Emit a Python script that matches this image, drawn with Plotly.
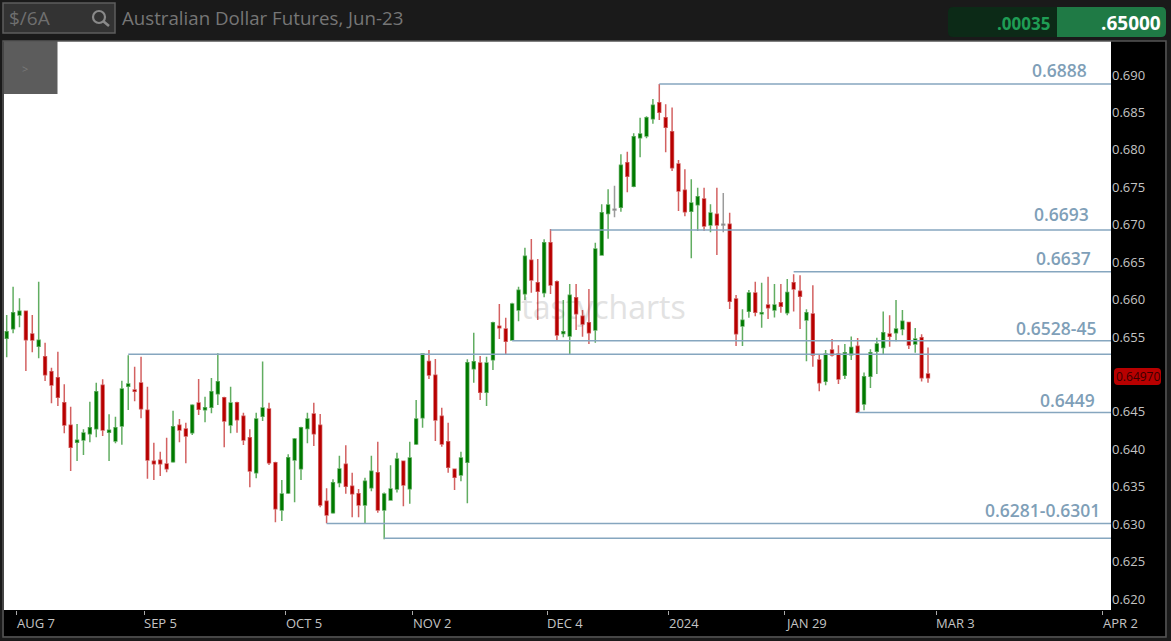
import plotly.graph_objects as go

# ---- candle data (prices) ----
directions = ("GGGRRGRRRR" "RGGGGRGGGG" "RRRRRRGRRG" "RGGGRGRRRG" "GRRGGGGGRR"
              "RGGRRRGGRG" "GGRGGGRRRR" "RGGGRGGRRG" "GGRRGRRGGR" "RRGGGNGRGG"
              "GGRRRRRGGR" "GRNRRGGRGR" "GRGRRGRRGR" "RGGRGGGGRG" "GRGRR")
high = [.65794,.66172,.66016,.65852,.65794,.66239,.65424,.65090,.65304,.64868,
        .64569,.64338,.64266,.64636,.64890,.64934,.64467,.64436,.64917,.65255,
        .65104,.65237,.64836,.64088,.63968,.64155,.64516,.64404,.64356,.64600,
        .64939,.64703,.64952,.65282,.64703,.64836,.64636,.64489,.64267,.64489,
        .65171,.64623,.63835,.63590,.63933,.64151,.64302,.64489,.64623,.64471,
        .63478,.63599,.63915,.64053,.63688,.63469,.63621,.63915,.64102,.63421,
        .63786,.63955,.63848,.64102,.64658,.65282,.65326,.65206,.64556,.64356,
        .63732,.63968,.65202,.65558,.65246,.65237,.65705,.65941,.65758,.65959,
        .66172,.66693,.66809,.66542,.66805,.66943,.66253,.65994,.66208,.66208,
        .65861,.66141,.66760,.67272,.67473,.67522,.67940,.67976,.68221,.68430,
        .68448,.68679,.68880,.68608,.68564,.67864,.67740,.67606,.67495,.67495,
        .67272,.67495,.67424,.67161,.66061,.65870,.66128,.66239,.66226,.66306,
        .66208,.66208,.66275,.66338,.66324,.65870,.66191,.65273,.65327,.65474,
        .65389,.65407,.65505,.65487,.65024,.65336,.65491,.65839,.65790,.65995,
        .65861,.65705,.65621,.65536,.65358]
body_top = [.65571,.65825,.65843,.65843,.65540,.65455,.65237,.65037,.64957,.64623,
            .64320,.64120,.64217,.64289,.64770,.64854,.64253,.64289,.64805,.64872,
            .64792,.64885,.64520,.63839,.63852,.63803,.64302,.64320,.64271,.64587,
            .64618,.64556,.64770,.64903,.64690,.64618,.64623,.64440,.64155,.64405,
            .64552,.64538,.63821,.63403,.63888,.64137,.64289,.64405,.64471,.64320,
            .63305,.63554,.63737,.63799,.63505,.63407,.63572,.63705,.63688,.63403,
            .63469,.63870,.63839,.63884,.64405,.65273,.65171,.64988,.64440,.64102,
            .63732,.63884,.65157,.65170,.65153,.65153,.65691,.65642,.65607,.65941,
            .66123,.66578,.66524,.66226,.66760,.66760,.66239,.65571,.66057,.66025,
            .65776,.65691,.66676,.67161,.67263,.67205,.67793,.67829,.68176,.68212,
            .68430,.68595,.68630,.68430,.68243,.67811,.67459,.67290,.67375,.67343,
            .67156,.67139,.67005,.67005,.66008,.65723,.66088,.66088,.65825,.65928,
            .65928,.65959,.66093,.66226,.66110,.65825,.65808,.65193,.65273,.65327,
            .65273,.65291,.65358,.65376,.64970,.65291,.65407,.65558,.65540,.65607,
            .65710,.65692,.65474,.65491,.65006]
body_bottom = [.65482,.65611,.65794,.65464,.65460,.65375,.64997,.64859,.64694,.64324,
               .64026,.64093,.64124,.64209,.64275,.64258,.64226,.64111,.64311,.64841,
               .64774,.64543,.63857,.63808,.63808,.63741,.63835,.64258,.64177,.64222,
               .64534,.64529,.64560,.64743,.64378,.64324,.64396,.64124,.63710,.63688,
               .64440,.63821,.63207,.63189,.63416,.63857,.63741,.64276,.64209,.63256,
               .63122,.63153,.63554,.63505,.63407,.63256,.63256,.63487,.63189,.63189,
               .63323,.63469,.63523,.63474,.64071,.64422,.64992,.64391,.64071,.63759,
               .63625,.63657,.63826,.65077,.64761,.64761,.65197,.65625,.65442,.65460,
               .65861,.66079,.66261,.66110,.66092,.66195,.65527,.65545,.65513,.65812,
               .65674,.65558,.65594,.66595,.67148,.67197,.67232,.67646,.67513,.68163,
               .68185,.68417,.68501,.68301,.67762,.67450,.67174,.67179,.67268,.66983,
               .66996,.66996,.66996,.65976,.65544,.65647,.65843,.65829,.65812,.65892,
               .65861,.65910,.65825,.66142,.66044,.65727,.65260,.64890,.64908,.65260,
               .64939,.64988,.65264,.64494,.64605,.64975,.65309,.65358,.65509,.65558,
               .65607,.65393,.65407,.64957,.64957]
low = [.65228,.65549,.65629,.65046,.65295,.65215,.64912,.64614,.64578,.64213,
       .63710,.63843,.63924,.64093,.64160,.64177,.63843,.64079,.64062,.64525,
       .64640,.64413,.63607,.63590,.63643,.63692,.63821,.64093,.63812,.64191,
       .64458,.64360,.64480,.64592,.64026,.64213,.64222,.64057,.63492,.63612,
       .64378,.63790,.63024,.63042,.63403,.63291,.63590,.64080,.64044,.63225,
       .63011,.63140,.63492,.63407,.63091,.63091,.63011,.63438,.63153,.62797,
       .63323,.63421,.63238,.63274,.64057,.64289,.64939,.64111,.64035,.63688,
       .63456,.63572,.63278,.64890,.64658,.64578,.65059,.65473,.65264,.65451,
       .65709,.65994,.66092,.65727,.66030,.66074,.65451,.65496,.65264,.65594,
       .65504,.65406,.65424,.66595,.66814,.67099,.67174,.67433,.67499,.67900,
       .68154,.68350,.68399,.67967,.67718,.67183,.67112,.66551,.66916,.66916,
       .66898,.66595,.66898,.65874,.65380,.65380,.65758,.65776,.65625,.65741,
       .65759,.65825,.65790,.65839,.65607,.65175,.65104,.64774,.64855,.65238,
       .64872,.64939,.65193,.64490,.64521,.64819,.65006,.65260,.65371,.65442,
       .65523,.65340,.65291,.64904,.64890]

# ---- levels and labels ----
level_prices = [.6888, .6693, .6637, .6545, .6527, .6449, .6301, .6281]
level_starts = [102, 85, 123, 79, 19, 133, 50, 59]
label_texts = ["0.6888", "0.6693", "0.6637", "0.6528-45", "0.6449", "0.6281-0.6301"]
label_right = [1089, 1091, 1093, 1098, 1097, 1102]
label_top = [70, 214.5, 257.5, 327.5, 400, 509.5]
# the 0.650 tick is covered by the last-price tag in the reference
y_ticks = [.620, .625, .630, .635, .640, .645, .655, .660, .665,
           .670, .675, .680, .685, .690]
x_tick_vals = [1.56, 21.5, 43.6, 63.5, 84.45, 103.5, 121.6, 145.25, 171.3]
x_tick_text = ["AUG 7", "SEP 5", "OCT 5", "NOV 2", "DEC 4", "2024", "JAN 29", "MAR 3", "APR 2"]
last_price = 0.64970

# ---- page geometry ----
W, H = 1171, 641
L, R, T, B = 4, 1111, 41, 610
X_RANGE = [-0.42, 172.6]
Y_RANGE = [0.61853, 0.69454]
FONT = "Open Sans"
GREEN, RED, GRAY = "#007a00", "#b80000", "#8f8f8f"
LEVEL = "#86a6bf"

def xp(px): return (px - L) / (R - L)
def yp(py): return 1 - (py - T) / (B - T)

idx = list(range(len(high)))
def pick(code):
    keep = [i for i in idx if directions[i] == code]
    op = [body_bottom[i] if code == "G" else body_top[i] for i in keep]
    cl = [body_top[i] if code == "G" else body_bottom[i] for i in keep]
    return keep, op, [high[i] for i in keep], [low[i] for i in keep], cl

fig = go.Figure()
for code, col, rgba in (("G", GREEN, "rgba(0,122,0,0.62)"),
                        ("R", RED, "rgba(184,0,0,0.62)"),
                        ("N", GRAY, "rgba(130,130,130,0.8)")):
    xs, o, h, l, c = pick(code)
    style = dict(line=dict(color=rgba, width=1.5), fillcolor=col)
    fig.add_trace(go.Candlestick(x=xs, open=o, high=h, low=l, close=c,
                                 increasing=style, decreasing=style,
                                 whiskerwidth=0, showlegend=False))

for price, start in zip(level_prices, level_starts):
    fig.add_trace(go.Scatter(x=[start, X_RANGE[1]], y=[price, price], mode="lines",
                             line=dict(color=LEVEL, width=1.5), showlegend=False,
                             hoverinfo="skip"))

def rect(x0, y0, x1, y1, fill, line=None, layer="below", lw=1):
    return dict(type="rect", xref="paper", yref="paper", x0=xp(x0), x1=xp(x1),
                y0=yp(y1), y1=yp(y0), fillcolor=fill, layer=layer,
                line=dict(color=line or fill, width=lw if line else 0))

def rounded(x0, y0, x1, y1, r, fill, left=True, right=True):
    # rounded panel, in paper fractions
    rx, ry = r / (R - L), r / (B - T)
    a, b, c, d = xp(x0), xp(x1), yp(y1), yp(y0)
    p = f"M{a + (rx if left else 0)},{d} L{b - (rx if right else 0)},{d} "
    p += f"Q{b},{d} {b},{d - ry} L{b},{c + ry} Q{b},{c} {b - rx},{c} " if right else f"L{b},{c} "
    p += f"L{a + rx},{c} Q{a},{c} {a},{c + ry} L{a},{d - ry} Q{a},{d} {a + rx},{d} Z" if left else f"L{a},{c} Z"
    return dict(type="path", xref="paper", yref="paper", path=p, fillcolor=fill,
                line=dict(width=0), layer="above")

shapes = [
    rect(R, T, 1165, 636, "#000000"),
    rect(L, B, R, 636, "#000000"),
    rect(L + 0, T, L + 53.5, 94, "#5c5c5c", layer="above"),
    rect(3, 41, 1166, 637, "rgba(0,0,0,0)", "#555555", layer="above", lw=1.5),
    rect(3, 3, 115, 33, "#333333", "#5e5e5e", layer="above", lw=1.5),
    dict(type="circle", xref="paper", yref="paper", x0=xp(93), x1=xp(105), y0=yp(23), y1=yp(11),
         line=dict(color="#8a8a8a", width=2.2), layer="above"),
    dict(type="line", xref="paper", yref="paper", x0=xp(103), x1=xp(109), y0=yp(21), y1=yp(26),
         line=dict(color="#8a8a8a", width=2.6), layer="above"),
    rounded(948, 7, 1057, 37, 5, "#0c2a17", right=False),
    rounded(1057, 7, 1166, 37, 5, "#1f7a45", left=False),
    # watermark lives in a shape label so that the candles cover it
    dict(type="rect", xref="paper", yref="paper", x0=xp(500), x1=xp(707), y0=yp(331), y1=yp(286),
         layer="below", line=dict(width=0), fillcolor="rgba(0,0,0,0)",
         label=dict(text="tastycharts", textposition="middle center",
                    font=dict(family=FONT, size=32, color="#e2e2e2"))),
    # last-price tag
    rounded(1114, 368, 1161, 385, 4, "#b80000"),
]

ann = []
def text(px, py, s, size, color, anchor="left", family=FONT, weight="normal"):
    ann.append(dict(xref="paper", yref="paper", x=xp(px), y=yp(py), text=s, showarrow=False,
                    xanchor=anchor, yanchor="middle", align=anchor,
                    font=dict(family=family, size=size, color=color, weight=weight)))

text(7, 18, "$/6A", 19, "#6f6f6f")
text(120, 18, "Australian Dollar Futures, Jun-23", 18.7, "#767676")
text(25, 68, "&gt;", 11, "#7a7a7a", "center")
text(1052, 23, ".00035", 17, "#1f9d55", "right", weight="bold")
text(1163, 23, ".65000", 19, "#ffffff", "right", weight="bold")
for s, r, py in zip(label_texts, label_right, label_top):
    text(r, py, s, 17.5, "#7f9fb8", "right", weight=600)
for v, s in zip(x_tick_vals, x_tick_text):
    ann.append(dict(xref="x", yref="paper", x=v - 0.3, y=yp(623), text=s, showarrow=False,
                    xanchor="left", yanchor="middle",
                    font=dict(family=FONT, size=13, color="#c4c4c4")))
ann.append(dict(xref="paper", yref="y", x=xp(1114), y=last_price, text=f"{last_price:.5f}",
                showarrow=False, xanchor="left", yanchor="middle",
                font=dict(family=FONT, size=12, color="#3a0000")))

fig.update_layout(
    width=W, height=H, autosize=False,
    margin=dict(l=L, r=W - R, t=T, b=H - B, pad=0),
    paper_bgcolor="#1a1a1a", plot_bgcolor="#ffffff",
    showlegend=False, boxgap=0.38, hovermode=False,
    shapes=shapes, annotations=ann,
    xaxis=dict(range=X_RANGE, rangeslider=dict(visible=False), showgrid=False, zeroline=False,
               tickmode="array", tickvals=x_tick_vals, ticktext=[""] * len(x_tick_vals),
               ticks="outside", ticklen=4, tickcolor="#aaaaaa", tickwidth=1,
               showline=False),
    yaxis=dict(range=Y_RANGE, side="right", showgrid=False, zeroline=False, showline=False,
               tickmode="array", tickvals=y_ticks, tickformat=".3f", ticks="",
               tickfont=dict(family=FONT, size=13, color="#c4c4c4")),
)
fig.write_html("out.html", config=dict(displayModeBar=False),
               post_script="document.body.style.margin='0';document.body.style.background='#1a1a1a';document.body.style.overflow='hidden';")
